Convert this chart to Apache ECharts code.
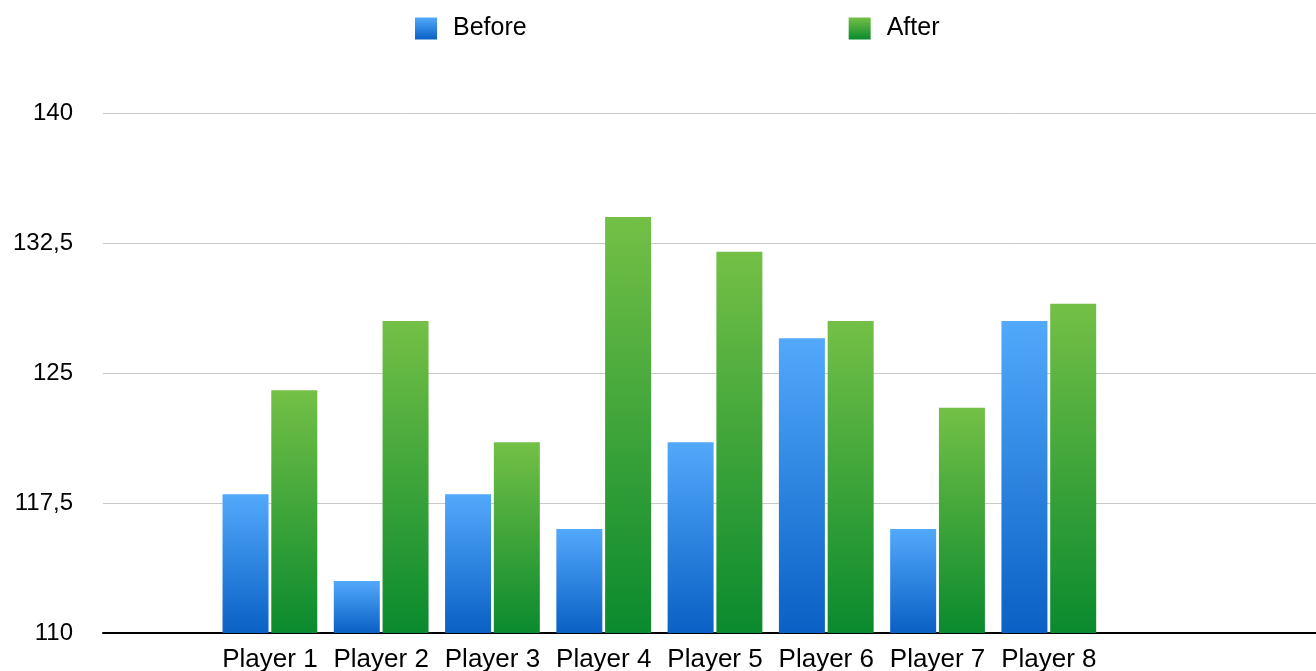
<!DOCTYPE html>
<html>
<head>
<meta charset="utf-8">
<script src="https://cdn.jsdelivr.net/npm/echarts@6/dist/echarts.min.js"></script>
<style>
html,body{margin:0;padding:0;background:#fff;}
#chart{width:1316px;height:671px;}
</style>
</head>
<body>
<div id="chart"></div>
<script>
// Categories (blank slots pad the axis as in the reference layout)
const categories = ['', 'Player 1', 'Player 2', 'Player 3', 'Player 4', 'Player 5', 'Player 6', 'Player 7', 'Player 8', '', ''];
const beforeValues = [null, 118, 113, 118, 116, 121, 127, 116, 128, null, null];
const afterValues  = [null, 124, 128, 121, 134, 132, 128, 123, 129, null, null];
const seriesNames = ['Before', 'After'];
const yMin = 110, yMax = 140, yStep = 7.5;

const FONT = "'Liberation Sans', Arial, Helvetica, sans-serif";

function grad(top, bottom) {
  return new echarts.graphic.LinearGradient(0, 0, 0, 1, [
    { offset: 0, color: top },
    { offset: 1, color: bottom }
  ]);
}

const chart = echarts.init(document.getElementById('chart'), null, { renderer: 'canvas' });
chart.setOption({
  animation: false,
  backgroundColor: '#ffffff',
  grid: { left: 103, width: 1224, top: 113, height: 520, containLabel: false, outerBoundsMode: 'none' },
  legend: {
    data: seriesNames,
    left: 410,
    top: 11,
    itemWidth: 22,
    itemHeight: 22,
    itemGap: 322,
    icon: 'rect',
    textStyle: { fontFamily: FONT, fontSize: 25, color: '#000', padding: [0, 0, 0, 11] }
  },
  xAxis: {
    type: 'category',
    data: categories,
    axisLine: { show: true, lineStyle: { color: '#000', width: 2 } },
    axisTick: { show: false },
    axisLabel: { fontFamily: FONT, fontSize: 26, color: '#000', margin: 14, interval: 0 }
  },
  yAxis: {
    type: 'value',
    min: yMin,
    max: yMax,
    interval: yStep,
    axisLine: { show: false },
    axisTick: { show: false },
    splitLine: { show: true, lineStyle: { color: '#c8c8c8', width: 1 } },
    axisLabel: {
      fontFamily: FONT, fontSize: 24, color: '#000', margin: 30,
      formatter: v => String(v).replace('.', ',')
    }
  },
  series: [
    {
      name: seriesNames[0],
      type: 'bar',
      data: beforeValues,
      barWidth: 46,
      barGap: '6%',
      itemStyle: { color: grad('#52a9fb', '#0a60c4') }
    },
    {
      name: seriesNames[1],
      type: 'bar',
      data: afterValues,
      barWidth: 46,
      barGap: '6%',
      itemStyle: { color: grad('#74c046', '#0a8a2e') }
    }
  ]
});
</script>
</body>
</html>
